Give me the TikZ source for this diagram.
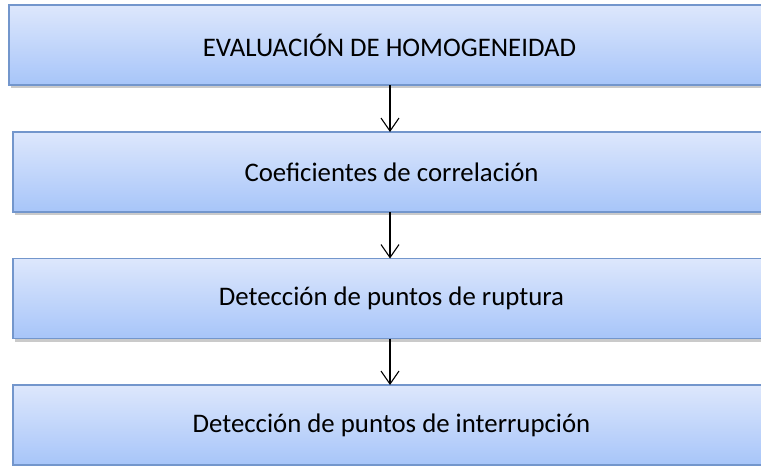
\documentclass[tikz,border=0pt]{standalone}
\usepackage{fontspec}
\setmainfont{Carlito}
\usetikzlibrary{arrows.meta,shadows}

\definecolor{boxtop}{HTML}{DDE7FC}
\definecolor{boxbot}{HTML}{A7C5F9}
\definecolor{boxline}{HTML}{7396CC}

\tikzset{
  stage/.style={draw=boxline, line width=1.6pt, top color=boxtop, bottom color=boxbot,
    minimum width=757pt, minimum height=80pt, inner sep=0pt, outer sep=0pt,
    font=\fontsize{26.8}{30}\selectfont,
    drop shadow={shadow xshift=1.5pt, shadow yshift=-3pt, opacity=.35, fill=black!60}},
  flow/.style={-{Straight Barb[length=13pt,width=18pt,line width=1.1pt]}, line width=1.1pt}
}

\begin{document}
\begin{tikzpicture}[x=1pt, y=1pt]
  \useasboundingbox (0, 0) rectangle (761, -466);

  % Stages
  \node[stage, minimum width=761pt] (eval) at (389.5, -45) {EVALUACIÓN DE HOMOGENEIDAD};
  \node[stage] (coef) at (391.5, -172) {Coeficientes de correlación};
  \node[stage] (rupt) at (391.5, -298.5) {Detección de puntos de ruptura};
  \node[stage] (intr) at (391.5, -425) {Detección de puntos de interrupción};

  % Arrows
  \draw[flow] (eval.south -| 390, 0) -- (coef.north -| 390, 0);
  \draw[flow] (coef.south -| 390, 0) -- (rupt.north -| 390, 0);
  \draw[flow] (rupt.south -| 390, 0) -- (intr.north -| 390, 0);
\end{tikzpicture}
\end{document}
